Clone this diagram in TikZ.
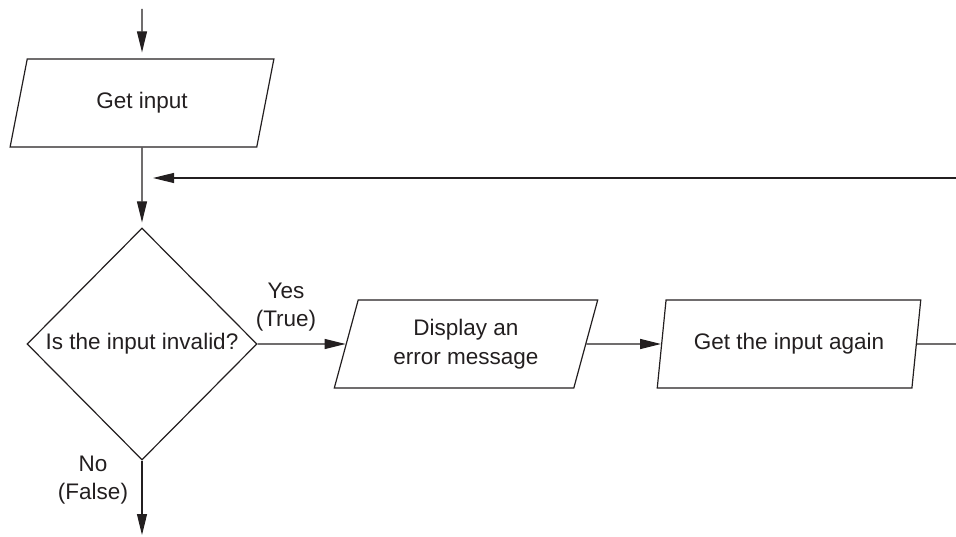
\documentclass[tikz,border=0pt]{standalone}
\usepackage{fontspec}
\setmainfont{Liberation Sans}
\usetikzlibrary{shapes.geometric,arrows.meta,calc}
\definecolor{ink}{RGB}{35,31,32}
\begin{document}
\begin{tikzpicture}[x=1pt,y=1pt, line width=1.2pt, color=ink,
  font=\fontsize{22.5}{28.5}\selectfont,
  io/.style={trapezium, draw, trapezium left angle=72, trapezium right angle=108,
    trapezium stretches=true, minimum width=264, minimum height=88, inner sep=0, align=center},
  decision/.style={diamond, draw, aspect=1, minimum width=230, minimum height=232, inner sep=0},
  arr/.style={-{Triangle[length=21pt,width=10pt]}},
  lbl/.style={align=center}]
\useasboundingbox (0,0) rectangle (956,536);
\node[io] (gi) at (142,433) {Get input};
\node[decision] (dec) at (142,192) {Is the input invalid?};
\node[io] (err) at (466,192) {Display an\\error message};
\node[io] (again) at (789,192) {Get the input again};
\coordinate (top) at (142,527);
\coordinate (fbR) at (956,358);
\coordinate (outR) at (956,192);
\coordinate (bot) at (142,1);
\draw[arr] (top) -- ([yshift=6]gi.north);
\draw[arr] (gi.south) -- ([yshift=5]dec.north);
\draw[arr] (fbR) -- ($(gi.south |- fbR)+(11,0)$);
\draw[arr] (dec.east) -- (err.west);
\draw[arr] (err.east) -- (again.west);
\draw (again.east) -- (outR);
\draw[arr] (dec.south) -- (bot);
\node[lbl] (yes) at (286,229) {Yes\\(True)};
\node[lbl] (no) at (93,56) {No\\(False)};
\end{tikzpicture}
\end{document}
